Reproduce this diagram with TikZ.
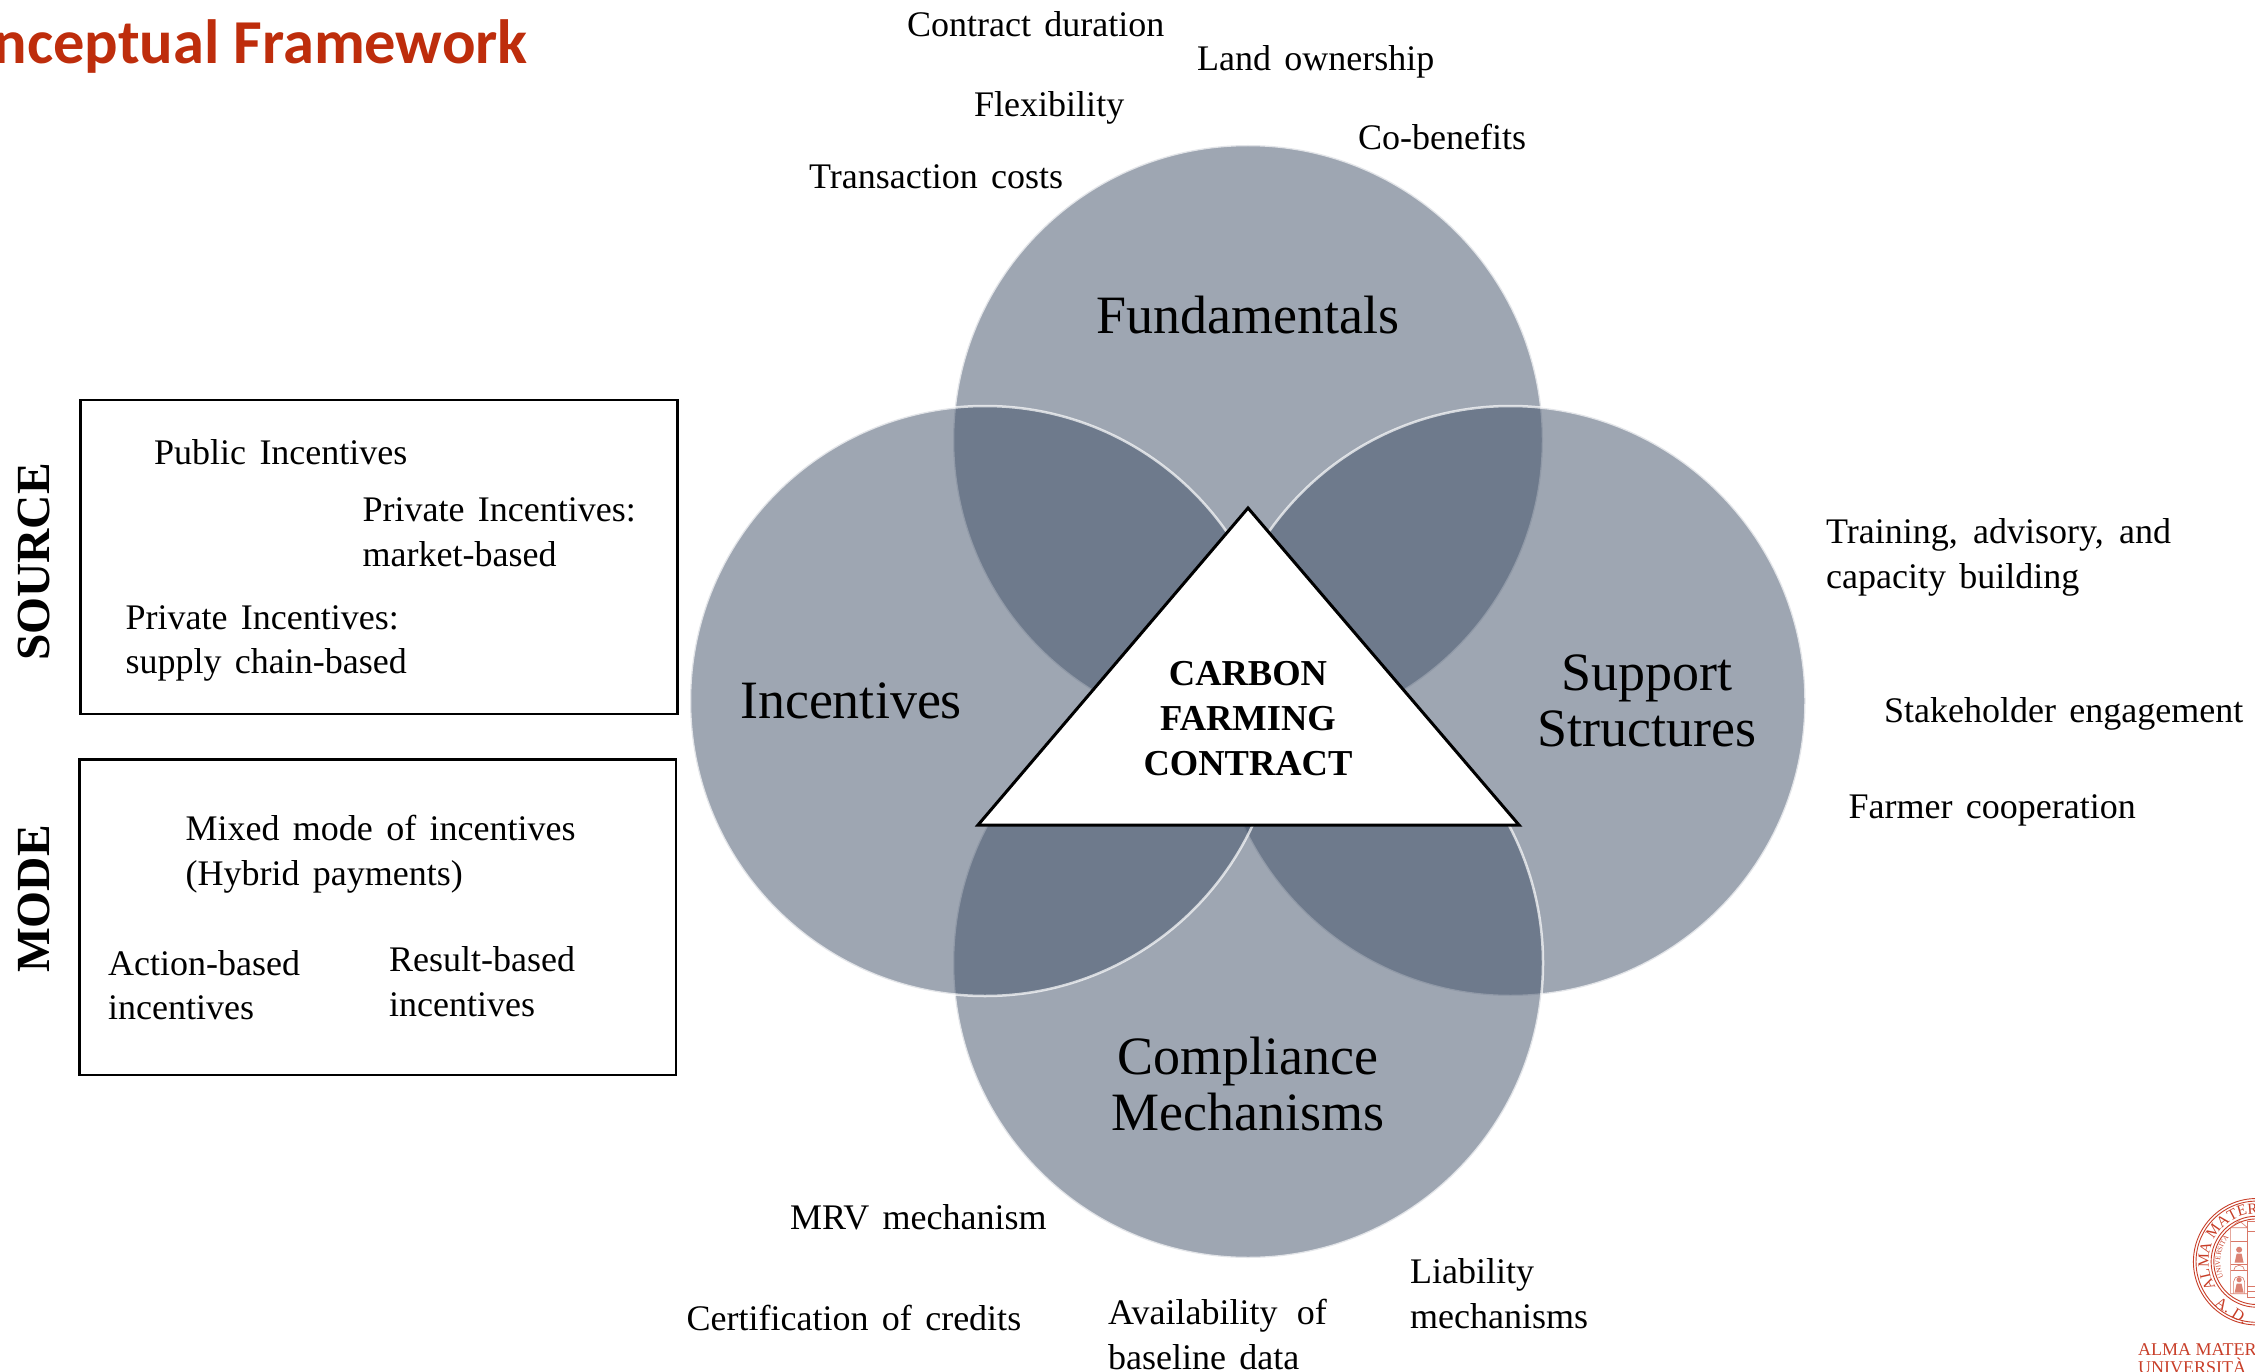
\documentclass[tikz,border=0pt]{standalone}
\usepackage{fontspec}
\usetikzlibrary{decorations.text}
\setmainfont{Liberation Serif}
\newfontfamily\titlefont{Carlito}
\newfontfamily\itemfont[WordSpace=1.48]{Liberation Serif}
\definecolor{petalc}{RGB}{63,79,103}
\definecolor{titlered}{RGB}{190,45,12}
\definecolor{sealred}{RGB}{200,62,40}
\tikzset{
  x=1pt,y=-1pt,
  petal/.style={circle,minimum size=590pt,inner sep=0pt,fill=petalc,fill opacity=.5,draw=white,draw opacity=.7,line width=2.5pt},
  item/.style={anchor=base west,inner sep=0pt,align=left,text=black,font=\itemfont\fontsize{36}{44.5}\selectfont},
  head/.style={anchor=base,inner sep=0pt,align=center,text=black,font=\fontsize{54}{56.5}\selectfont},
  core/.style={anchor=base,inner sep=0pt,text=black,font=\fontsize{36.5}{45}\selectfont\bfseries},
  side/.style={anchor=base,inner sep=0pt,rotate=90,text=black,font=\fontsize{47.5}{47.5}\selectfont\bfseries},
  framebox/.style={draw=black,line width=2.6pt},
  seal/.style={draw=sealred,line width=.9pt},
  sealthin/.style={draw=sealred!70,line width=.6pt},
  sealtext/.style={anchor=base west,inner sep=0pt,text=sealred,font=\fontsize{18}{20}\selectfont}
}
\begin{document}
\begin{tikzpicture}
\useasboundingbox (0,0) rectangle (2255,1372);
\clip (0,0) rectangle (2255,1372);
\fill[white] (0,0) rectangle (2255,1372);

\node[anchor=base east,inner sep=0pt,text=titlered,font=\titlefont\fontsize{62.5}{62.5}\selectfont\bfseries] (title) at (528,64) {nceptual Framework};

\node[petal] (fund) at (1248,440) {};
\node[petal] (supp) at (1510.5,701) {};
\node[petal] (comp) at (1248,963) {};
\node[petal] (ince) at (985,701) {};

\coordinate (apex) at (1248,508);
\coordinate (bl) at (978,825);
\coordinate (br) at (1519,825);
\draw[fill=white,draw=black,line width=3pt,line join=miter] (apex) -- (br) -- (bl) -- cycle;

\node[core] (c1) at (1248,685) {CARBON};
\node[core] (c2) at (1248,730) {FARMING};
\node[core] (c3) at (1248,775) {CONTRACT};

\node[head] (hfund) at (1248,334) {Fundamentals};
\node[head] (hince) at (851,718) {Incentives};
\node[head] (hsupp) at (1646.5,746.5) {Support\\Structures};
\node[head] (hcomp) at (1248,1130.5) {Compliance\\Mechanisms};

\draw[framebox] (80.5,400) rectangle (677.5,714);
\draw[framebox] (79.5,759.5) rectangle (676,1075);
\node[side] (src) at (49.5,562) {SOURCE};
\node[side] (mode) at (49.5,899) {MODE};

\node[item] (i1) at (154,464) {Public Incentives};
\node[item] (i2) at (362.5,566) {Private Incentives:\\market-based};
\node[item] (i3) at (125.5,673.5) {Private Incentives:\\supply chain-based};
\node[item] (i4) at (185.5,885) {Mixed mode of incentives\\(Hybrid payments)};
\node[item] (i5) at (108,1019.5) {Action-based\\incentives};
\node[item] (i6) at (389,1016) {Result-based\\incentives};

\node[item] (t1) at (907,37) {Contract duration};
\node[item] (t2) at (1197,70.5) {Land ownership};
\node[item] (t3) at (974,116.5) {Flexibility};
\node[item] (t4) at (1358,150) {Co-benefits};
\node[item] (t5) at (809,188.5) {Transaction costs};

\node[item] (b1) at (790,1229) {MRV mechanism};
\node[item] (b2) at (686.5,1330.5) {Certification of credits};
\node[item] (b3) at (1108,1369) {Availability\hspace{6pt} of\\baseline data};
\node[item] (b4) at (1410,1328) {Liability\\mechanisms};

\node[item] (r1) at (1826,588) {Training,\hspace{2pt} advisory,\hspace{2pt} and\\capacity building};
\node[item] (r2) at (1884,722) {Stakeholder engagement};
\node[item] (r3) at (1848.5,818) {Farmer cooperation};

% seal
\begin{scope}[shift={(2256.6,1261.7)},x=1pt,y=1pt]
  \draw[seal] (0,0) circle[radius=63.2];
  \draw[seal] (0,0) circle[radius=60.6];
  \draw[seal] (0,0) circle[radius=45.5];
  \draw[seal] (0,0) circle[radius=42.8];
  \path[decorate,decoration={text along path,text={|\fontsize{15.5}{16}\selectfont\color{sealred}|ALMA MATER}}]
    (212:48) arc[start angle=212,end angle=60,radius=48];
  \path[decorate,decoration={text along path,text={|\fontsize{7}{7}\selectfont\color{sealred}|UNIVERSITA}}]
    (205:36.5) arc[start angle=205,end angle=130,radius=36.5];
  \node[inner sep=0pt,rotate=-32,text=sealred,font=\fontsize{16}{16}\selectfont] (ad) at (-25,-49) {A. D.};
  % towers
  \draw[sealthin] (-26,-32) rectangle (-9,34) (-26,34) -- (-17.5,41) -- (-9,34);
  \draw[sealthin] (-26,20) -- (-9,20) (-26,-3) -- (-9,-3) (-26,-9) -- (-9,-9);
  \draw[sealthin] (-9,-36) rectangle (3,40);
  \draw[sealthin] (-9,30) -- (3,30) (-9,-25) -- (3,-25) (-9,-30) -- (3,-30);
  \draw[sealthin] (-23,-9) arc[start angle=180,end angle=0,radius=5.5] (-23,-32) -- (-23,-20) arc[start angle=180,end angle=0,radius=5.5] -- (-12,-32);
  \fill[sealred!65] (-17.5,12) circle[radius=3] (-22,-1) -- (-13,-1) -- (-15,8) -- (-20,8) -- cycle;
  \fill[sealred!65] (-17.5,-18) circle[radius=2.6] (-22,-31) -- (-13,-31) -- (-15,-22) -- (-20,-22) -- cycle;
\end{scope}
\node[sealtext] (s1) at (2138,1355) {ALMA MATER};
\node[sealtext] (s2) at (2138,1373) {UNIVERSITÀ};
\end{tikzpicture}
\end{document}
